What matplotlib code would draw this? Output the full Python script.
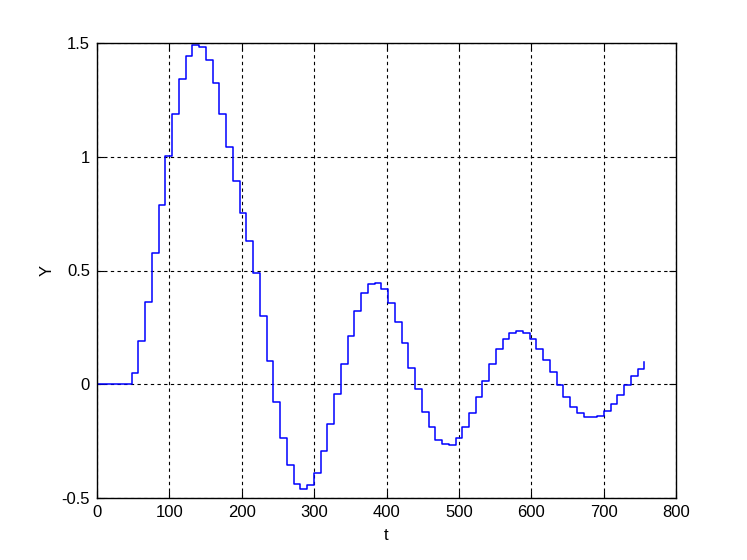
import matplotlib
matplotlib.use("Agg")
import matplotlib.pyplot as plt

# sample times (stair edges)
t_edges = [0.0,
           48.0, 57.3, 66.6, 76.0, 85.3, 94.6, 103.9, 113.2, 122.6, 131.9,
           141.2, 150.5, 159.8, 169.2, 178.5, 187.8, 197.1, 206.4, 215.8, 225.1,
           234.4, 243.7, 253.0, 262.4, 271.7, 281.0, 290.3, 299.6, 309.0, 318.3,
           327.6, 336.9, 346.2, 355.6, 364.9, 374.2, 383.5, 392.8, 402.2, 411.5,
           420.8, 430.1, 439.4, 448.8, 458.1, 467.4, 476.7, 486.0, 495.4, 504.7,
           514.0, 523.3, 532.6, 542.0, 551.3, 560.6, 569.9, 579.2, 588.6, 597.9,
           607.2, 616.5, 625.8, 635.2, 644.5, 653.8, 663.1, 672.4, 681.8, 691.1,
           700.4, 709.7, 719.0, 728.4, 737.7, 747.0, 756.3]

y_values = [0.0,
            0.051, 0.189, 0.362, 0.575, 0.790, 1.002, 1.190, 1.340, 1.443, 1.491,
            1.483, 1.425, 1.324, 1.190, 1.041, 0.892, 0.751, 0.629, 0.491, 0.298,
            0.104, -0.076, -0.235, -0.353, -0.437, -0.462, -0.444, -0.389, -0.295, -0.176,
            -0.041, 0.091, 0.214, 0.321, 0.400, 0.439, 0.443, 0.417, 0.356, 0.275,
            0.180, 0.073, -0.022, -0.120, -0.188, -0.243, -0.264, -0.265, -0.235, -0.189,
            -0.125, -0.056, 0.016, 0.091, 0.153, 0.198, 0.227, 0.232, 0.226, 0.198,
            0.157, 0.105, 0.052, -0.002, -0.055, -0.100, -0.126, -0.143, -0.143, -0.138,
            -0.118, -0.085, -0.048, -0.004, 0.035, 0.069, 0.098]

x_ticks = [0, 100, 200, 300, 400, 500, 600, 700, 800]
y_ticks = [-0.5, 0, 0.5, 1, 1.5]
y_tick_labels = ['-0.5', '0', '0.5', '1', '1.5']

plt.rcParams['font.family'] = ['Liberation Sans Narrow', 'Liberation Sans', 'DejaVu Sans']

fig = plt.figure(figsize=(7.47, 5.6), dpi=100, facecolor='white')
ax = fig.add_axes([97/747, 1 - 498/560, (676 - 97)/747, (498 - 43)/560])

ax.step(t_edges, y_values, where='post', color=(0, 0, 1), lw=1.1)

ax.set_xlim(0, 800)
ax.set_ylim(-0.5, 1.5)
ax.set_xticks(x_ticks)
ax.set_yticks(y_ticks)
ax.set_yticklabels(y_tick_labels)

ax.grid(True, color='black', linestyle=(0, (3, 3)), linewidth=0.8)
ax.tick_params(direction='in', top=True, right=True, length=5, width=0.8,
               labelsize=12, pad=5)
for s in ax.spines.values():
    s.set_linewidth(1.0)
    s.set_color('black')

ax.set_xlabel('t', fontsize=12, labelpad=6)
ax.set_ylabel('Y', fontsize=12, labelpad=5)

fig.savefig('out.png', dpi=100, facecolor='white')
